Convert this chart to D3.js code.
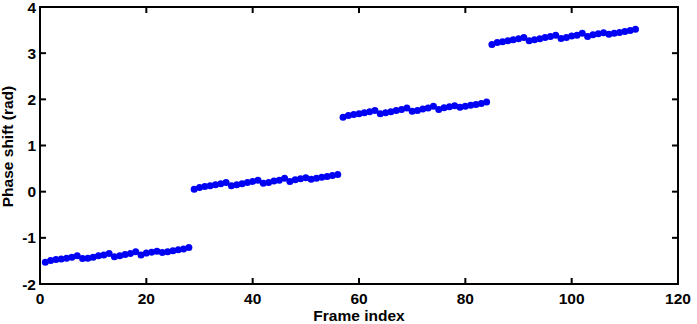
<!DOCTYPE html>
<html><head><meta charset="utf-8">
<script src="https://cdn.jsdelivr.net/npm/d3@7"></script>
<style>
html,body{margin:0;padding:0;background:#fff;}
svg{display:block;}
text{font-family:"Liberation Sans",Arial,sans-serif;font-weight:bold;fill:#000;}
</style></head><body>
<svg id="chart" width="697" height="324"></svg>
<script>
const seg1 = [-1.53,-1.49,-1.47,-1.46,-1.44,-1.42,-1.39,-1.45,-1.44,-1.42,-1.39,-1.37,-1.34,-1.41,-1.39,-1.36,-1.34,-1.30,-1.37,-1.33,-1.31,-1.29,-1.32,-1.30,-1.28,-1.26,-1.24,-1.21];
const seg2 = [0.05,0.09,0.11,0.13,0.15,0.17,0.20,0.13,0.15,0.17,0.20,0.22,0.25,0.18,0.20,0.23,0.25,0.29,0.22,0.26,0.28,0.30,0.27,0.29,0.31,0.33,0.35,0.37];
const seg3 = [1.61,1.65,1.67,1.69,1.71,1.73,1.76,1.69,1.71,1.73,1.76,1.78,1.81,1.74,1.76,1.79,1.81,1.85,1.78,1.82,1.84,1.86,1.83,1.85,1.87,1.89,1.91,1.94];
const seg4 = [3.19,3.23,3.25,3.27,3.29,3.31,3.34,3.27,3.29,3.31,3.34,3.36,3.39,3.32,3.34,3.37,3.39,3.43,3.36,3.40,3.42,3.44,3.41,3.43,3.45,3.47,3.49,3.52];
const phaseShift = [...seg1, ...seg2, ...seg3, ...seg4];
const frameIndex = phaseShift.map((_, i) => i + 1);
const xTicks = [0, 20, 40, 60, 80, 100, 120];
const yTicks = [-2, -1, 0, 1, 2, 3, 4];
const xLabel = "Frame index";
const yLabel = "Phase shift (rad)";

const svg = d3.select("#chart");
const L = 40, R = 678, T = 7, B = 284;
const x = d3.scaleLinear().domain([0, 120]).range([L, R]);
const y = d3.scaleLinear().domain([-2, 4]).range([B, T]);

const tickLen = 6;
// box
svg.append("rect").attr("x", L).attr("y", T).attr("width", R - L).attr("height", B - T)
  .attr("fill", "none").attr("stroke", "#000").attr("stroke-width", 2);

// ticks (inward, mirrored)
const tk = svg.append("g").attr("stroke", "#000").attr("stroke-width", 2);
xTicks.forEach(v => {
  tk.append("line").attr("x1", x(v)).attr("x2", x(v)).attr("y1", B).attr("y2", B - tickLen);
  tk.append("line").attr("x1", x(v)).attr("x2", x(v)).attr("y1", T).attr("y2", T + tickLen);
});
yTicks.forEach(v => {
  tk.append("line").attr("x1", L).attr("x2", L + tickLen).attr("y1", y(v)).attr("y2", y(v));
  tk.append("line").attr("x1", R).attr("x2", R - tickLen).attr("y1", y(v)).attr("y2", y(v));
});

// tick labels
svg.append("g").selectAll("text").data(xTicks).join("text")
  .attr("x", d => x(d)).attr("y", 303.5).attr("text-anchor", "middle")
  .attr("font-size", 15.5).text(d => d);
svg.append("g").selectAll("text").data(yTicks).join("text")
  .attr("x", 36).attr("y", d => y(d) + 5.6).attr("text-anchor", "end")
  .attr("font-size", 15.5).text(d => d);

// axis titles
svg.append("text").attr("x", (L + R) / 2).attr("y", 321).attr("text-anchor", "middle")
  .attr("font-size", 15.5).text(xLabel);
svg.append("text").attr("transform", `translate(13,${(T + B) / 2 + 1}) rotate(-90)`)
  .attr("text-anchor", "middle").attr("font-size", 15.5).text(yLabel);

// points
svg.append("g").selectAll("circle").data(phaseShift).join("circle")
  .attr("cx", (d, i) => x(frameIndex[i])).attr("cy", d => y(d)).attr("r", 3.5)
  .attr("fill", "#0000f5");
</script>
</body></html>
